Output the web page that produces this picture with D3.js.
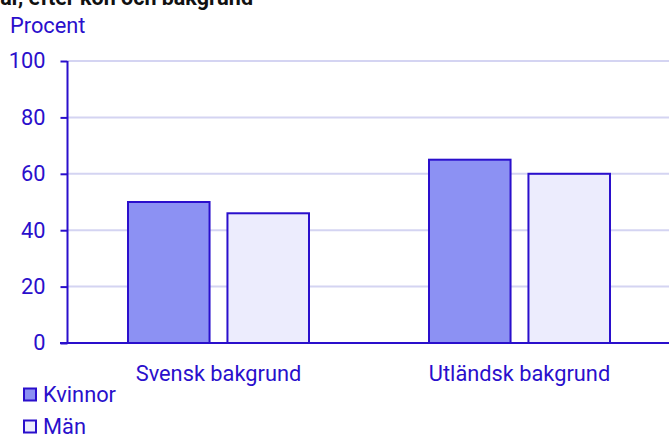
<!DOCTYPE html>
<html>
<head>
<meta charset="utf-8">
<script src="https://cdn.jsdelivr.net/npm/d3@7"></script>
<style>
  body { margin: 0; background: #fff; }
  svg { display: block; font-family: Roboto, "Noto Sans", sans-serif; }
</style>
</head>
<body>
<svg id="chart" width="669" height="435"></svg>
<script>
// data
const categories = ["Svensk bakgrund", "Utländsk bakgrund"];
const seriesNames = ["Kvinnor", "Män"];
const kvinnor = [50, 65];
const man = [46, 60];
const yTicks = [0, 20, 40, 60, 80, 100];

const ink = "#2a0fcc";
const fills = { "Kvinnor": "#8c91f3", "Män": "#ececfd" };
const fs = "21.8px";

const svg = d3.select("#chart");

const x = d3.scaleBand().domain(categories).range([68, 670]);
const x1 = d3.scaleBand().domain(seriesNames).range([0, 181]).paddingInner(0.18);
const y = d3.scaleLinear().domain([0, 100]).range([343, 61]);

const rows = categories.map((c, i) => ({ cat: c, values: [
  { name: "Kvinnor", value: kvinnor[i] },
  { name: "Män", value: man[i] }
] }));

// title (cut off at top in the source)
svg.append("text")
  .attr("x", 253).attr("y", 5)
  .attr("text-anchor", "end")
  .attr("font-weight", "bold").attr("font-size", "21.5px").attr("fill", "#111")
  .text("Andel med god hälsa, 16–84 år, efter kön och bakgrund");

svg.append("text")
  .attr("x", 10).attr("y", 33)
  .attr("font-size", fs).attr("fill", ink)
  .text("Procent");

// gridlines
svg.append("g").selectAll("line")
  .data(yTicks.filter(d => d > 0))
  .join("line")
  .attr("x1", 68).attr("x2", 669)
  .attr("y1", d => y(d)).attr("y2", d => y(d))
  .attr("stroke", "#d4d4f2").attr("stroke-width", 2);

// bars
const groups = svg.append("g").selectAll("g")
  .data(rows)
  .join("g")
  .attr("transform", d => `translate(${x(d.cat) + (x.bandwidth() - 181) / 2},0)`);

groups.selectAll("rect")
  .data(d => d.values)
  .join("rect")
  .attr("x", d => x1(d.name))
  .attr("width", x1.bandwidth())
  .attr("y", d => y(d.value))
  .attr("height", d => y(0) - y(d.value))
  .attr("fill", d => fills[d.name])
  .attr("stroke", ink).attr("stroke-width", 2);

// y axis
const yAxis = svg.append("g")
  .attr("transform", "translate(67.5,0)")
  .call(d3.axisLeft(y).tickValues(yTicks).tickSize(7).tickPadding(15));
yAxis.select(".domain").attr("stroke", ink).attr("stroke-width", 2).attr("d", "M0,61V343");
yAxis.selectAll(".tick line").attr("stroke", ink).attr("stroke-width", 2);
yAxis.selectAll(".tick text").attr("fill", ink).attr("font-size", fs)
  .attr("font-family", "Roboto, sans-serif");

// baseline
svg.append("line")
  .attr("x1", 60).attr("x2", 669)
  .attr("y1", y(0)).attr("y2", y(0))
  .attr("stroke", ink).attr("stroke-width", 2);

// category labels
svg.append("g").selectAll("text")
  .data(categories)
  .join("text")
  .attr("x", d => x(d) + x.bandwidth() / 2)
  .attr("y", 381)
  .attr("text-anchor", "middle")
  .attr("font-size", fs).attr("fill", ink)
  .text(d => d);

// legend
const legend = svg.append("g").selectAll("g")
  .data(seriesNames)
  .join("g")
  .attr("transform", (d, i) => `translate(24,${388.5 + i * 32})`);
legend.append("rect")
  .attr("width", 12).attr("height", 12)
  .attr("fill", d => fills[d])
  .attr("stroke", ink).attr("stroke-width", 2);
legend.append("text")
  .attr("x", 19).attr("y", 13)
  .attr("font-size", fs).attr("fill", ink)
  .text(d => d);
</script>
</body>
</html>
